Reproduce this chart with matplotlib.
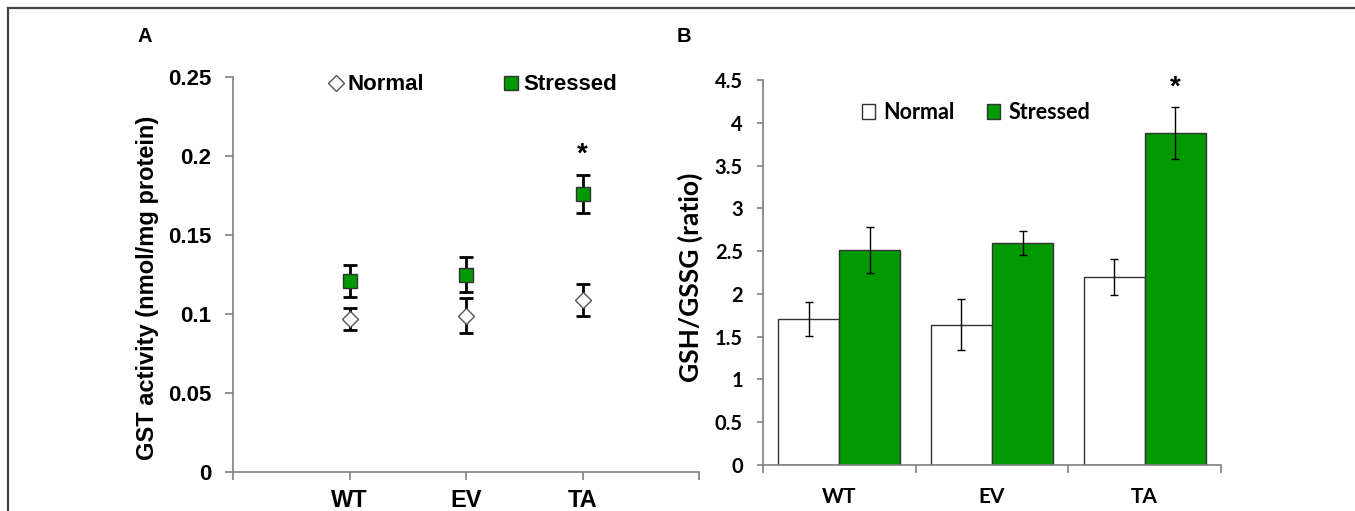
import numpy as np
import matplotlib
matplotlib.use("Agg")
import matplotlib.pyplot as plt
from matplotlib.lines import Line2D

# ==========================
# data
# ==========================
lines = ["WT", "EV", "TA"]

# painel A - GST activity (nmol/mg protein)
gst_normal = [0.097, 0.099, 0.109]
gst_normal_err = [0.007, 0.011, 0.010]
gst_stressed = [0.121, 0.125, 0.176]
gst_stressed_err = [0.010, 0.011, 0.012]
gst_star = 0.201

# painel B - GSH/GSSG (ratio)
ratio_normal = [1.71, 1.64, 2.20]
ratio_normal_err = [0.20, 0.30, 0.21]
ratio_stressed = [2.51, 2.59, 3.88]
ratio_stressed_err = [0.27, 0.14, 0.30]
ratio_star = 4.41

green = "#009900"
axis_gray = "#7f7f7f"
font_a = "Liberation Sans"
font_b = "Lato"

fig = plt.figure(figsize=(13.55, 5.11), dpi=100)

# moldura
fig.add_artist(Line2D([8 / 1355, 1], [1 - 8 / 511, 1 - 8 / 511], transform=fig.transFigure,
                      color="#444444", lw=1.6))
fig.add_artist(Line2D([8 / 1355, 8 / 1355], [0, 1 - 8 / 511], transform=fig.transFigure,
                      color="#444444", lw=1.6))

# ==========================
# painel A
# ==========================
ax = fig.add_axes([233 / 1355, 1 - 472 / 511, 466 / 1355, 395 / 511])
x = np.arange(1, len(lines) + 1)

ax.errorbar(x, gst_normal, yerr=gst_normal_err, fmt="none", ecolor="black",
            elinewidth=2, capsize=5, capthick=2, zorder=2)
ax.errorbar(x, gst_stressed, yerr=gst_stressed_err, fmt="none", ecolor="black",
            elinewidth=2, capsize=5, capthick=2, zorder=2)
h_norm, = ax.plot(x, gst_normal, ls="none", marker="D", ms=8, mfc="white",
                  mec="#555555", mew=1, zorder=3, label="Normal")
h_str, = ax.plot(x, gst_stressed, ls="none", marker="s", ms=10, mfc=green,
                 mec="#333333", mew=1, zorder=3, label="Stressed")
ax.text(x[2], gst_star, "*", ha="center", va="center", fontsize=20,
        fontweight="bold", family=font_a)

ax.set_xlim(0, 4)
ax.set_ylim(0, 0.25)
ax.set_xticks([0, 1, 2, 3, 4])
ax.set_xticklabels([""] + lines + [""], fontsize=17, fontweight="bold", family=font_a)
yt = [0, 0.05, 0.1, 0.15, 0.2, 0.25]
ax.set_yticks(yt)
ax.set_yticklabels([f"{v:g}" for v in yt], fontsize=16, fontweight="bold", family=font_a)
ax.tick_params(axis="x", direction="out", length=6, width=1.2, color=axis_gray, pad=6)
ax.tick_params(axis="y", direction="out", length=5.5, width=1.2, color=axis_gray, pad=10)
for s in ["top", "right"]:
    ax.spines[s].set_visible(False)
for s in ["left", "bottom"]:
    ax.spines[s].set_color(axis_gray)
    ax.spines[s].set_linewidth(1.2)

ax.set_ylabel("GST activity (nmol/mg protein)", fontsize=17, fontweight="bold",
              family=font_a, va="center")
ax.yaxis.set_label_coords(-0.1845, 0.466)

ax.legend(handles=[h_norm, h_str], loc="center", bbox_to_anchor=(0.515, 0.98), ncol=2,
          frameon=False, handlelength=0.6, handletextpad=0.25, columnspacing=3.6,
          prop={"family": font_a, "weight": "bold", "size": 16})

fig.text(145 / 1355, 1 - 37 / 511, "A", ha="center", va="center", fontsize=14.5,
         fontweight="bold", family=font_a)

# ==========================
# painel B
# ==========================
bx = fig.add_axes([763 / 1355, 1 - 465 / 511, 458 / 1355, 385 / 511])
xb = np.arange(len(lines))
w = 0.4

bx.bar(xb - w / 2, ratio_normal, w, color="white", edgecolor="#333333", lw=1,
       label="Normal", zorder=2)
bx.bar(xb + w / 2, ratio_stressed, w, color=green, edgecolor="#333333", lw=1,
       label="Stressed", zorder=2)
bx.errorbar(xb - w / 2, ratio_normal, yerr=ratio_normal_err, fmt="none", ecolor="black",
            elinewidth=1, capsize=3, capthick=1, zorder=3)
bx.errorbar(xb + w / 2, ratio_stressed, yerr=ratio_stressed_err, fmt="none", ecolor="black",
            elinewidth=1, capsize=3, capthick=1, zorder=3)
bx.text(xb[2] + w / 2, ratio_star, "*", ha="center", va="center", fontsize=20,
        fontweight="bold", family=font_a)

bx.set_xlim(-0.5, 2.5)
bx.set_ylim(0, 4.5)
bx.set_xticks(xb)
bx.set_xticklabels(lines, fontsize=15, fontweight="bold", family=font_b)
bx.set_xticks(np.arange(-0.5, 3, 1), minor=True)
ytb = np.arange(0, 4.51, 0.5)
bx.set_yticks(ytb)
bx.set_yticklabels([f"{v:g}" for v in ytb], fontsize=14.5, fontweight="bold", family=font_b)
bx.tick_params(axis="x", which="major", length=0, pad=16)
bx.tick_params(axis="x", which="minor", direction="out", length=6, width=1.2, color=axis_gray)
bx.tick_params(axis="y", direction="out", length=4.5, width=1.2, color=axis_gray, pad=10)
for s in ["top", "right"]:
    bx.spines[s].set_visible(False)
for s in ["left", "bottom"]:
    bx.spines[s].set_color(axis_gray)
    bx.spines[s].set_linewidth(1.2)

bx.set_ylabel("GSH/GSSG (ratio)", fontsize=19, fontweight="bold", family=font_b, va="center")
bx.yaxis.set_label_coords(-0.159, 0.488)

bx.legend(loc="center", bbox_to_anchor=(0.465, 0.915), ncol=2, frameon=False,
          handlelength=0.6, handleheight=0.7, handletextpad=0.4, columnspacing=1.5,
          prop={"family": font_b, "weight": "bold", "size": 15.5})

fig.text(684 / 1355, 1 - 37 / 511, "B", ha="center", va="center", fontsize=14.5,
         fontweight="bold", family=font_a)

plt.savefig("out.png", dpi=100)
plt.close()
